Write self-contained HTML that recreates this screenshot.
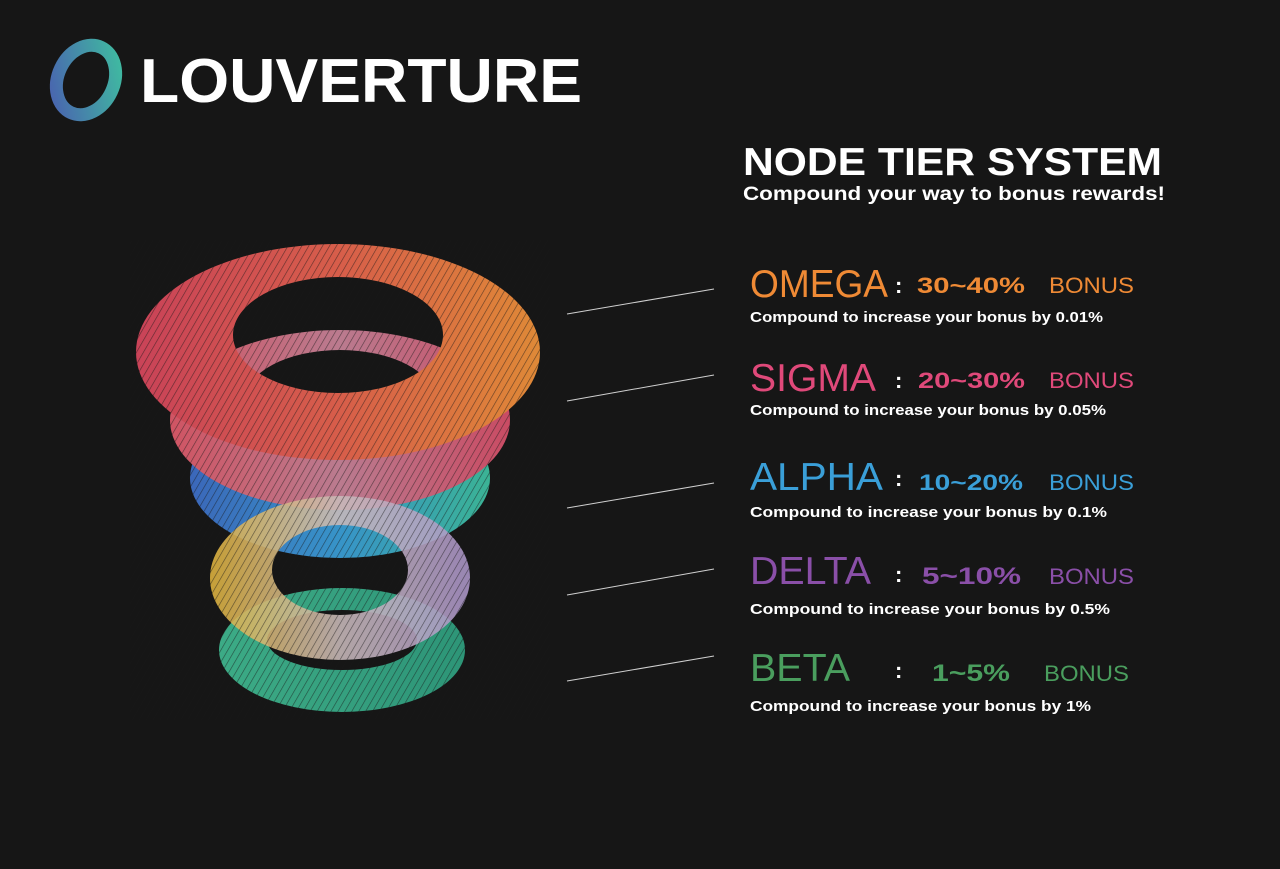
<!DOCTYPE html>
<html><head><meta charset="utf-8"><style>
html,body{margin:0;padding:0;background:#161616;}
svg{display:block}
text{font-family:"Liberation Sans",sans-serif;font-weight:bold}
</style></head><body>
<svg width="1280" height="869" viewBox="0 0 1280 869" xmlns="http://www.w3.org/2000/svg">
<defs>
<linearGradient id="gO" x1="0" x2="1" y1="0" y2="0"><stop offset="0" stop-color="#d9475e"/><stop offset="0.5" stop-color="#e8644f"/><stop offset="1" stop-color="#f1933a"/></linearGradient>
<linearGradient id="gS" x1="0" x2="1"><stop offset="0" stop-color="#e05a6a"/><stop offset="0.5" stop-color="#c9849a"/><stop offset="1" stop-color="#d9506a"/></linearGradient>
<linearGradient id="gA" x1="0" x2="1"><stop offset="0" stop-color="#3f6fc8"/><stop offset="0.5" stop-color="#3a9fd8"/><stop offset="1" stop-color="#3fc1a0"/></linearGradient>
<linearGradient id="gD" x1="0" x2="1"><stop offset="0" stop-color="#f0c040"/><stop offset="0.5" stop-color="#d8c8c8"/><stop offset="1" stop-color="#b8a0d8"/></linearGradient>
<linearGradient id="gB" x1="0" x2="1"><stop offset="0" stop-color="#40b890"/><stop offset="1" stop-color="#30a080"/></linearGradient>
<linearGradient id="gL" x1="0" x2="1" y1="1" y2="0"><stop offset="0" stop-color="#4a5fb0"/><stop offset="1" stop-color="#3fc0a0"/></linearGradient>
<pattern id="mesh" width="6" height="6" patternUnits="userSpaceOnUse" patternTransform="rotate(30)"><line x1="0" y1="0" x2="0" y2="6" stroke="#161616" stroke-width="1.3" opacity="0.6"/></pattern>
</defs>
<!-- logo -->
<ellipse cx="86" cy="80" rx="28" ry="36" transform="rotate(25 86 80)" fill="none" stroke="url(#gL)" stroke-width="13"/>
<text x="140" y="102" font-size="62" fill="#fff" textLength="442" lengthAdjust="spacingAndGlyphs">LOUVERTURE</text>
<!-- tori (outer minus inner, evenodd) -->
<g opacity="0.92" fill-rule="evenodd">
<path fill="url(#gB)" d="M219,650 a123,62 0 1,0 246,0 a123,62 0 1,0 -246,0 Z M267,640 a75,30 0 1,0 150,0 a75,30 0 1,0 -150,0 Z"/>
<path fill="url(#gA)" d="M190,478 a150,80 0 1,0 300,0 a150,80 0 1,0 -300,0 Z M255,462 a85,40 0 1,0 170,0 a85,40 0 1,0 -170,0 Z"/>
<path fill="url(#gS)" d="M170,420 a170,90 0 1,0 340,0 a170,90 0 1,0 -340,0 Z M245,400 a95,50 0 1,0 190,0 a95,50 0 1,0 -190,0 Z"/>
<path fill="url(#gO)" d="M136,352 a202,108 0 1,0 404,0 a202,108 0 1,0 -404,0 Z M233,335 a105,58 0 1,0 210,0 a105,58 0 1,0 -210,0 Z"/>
<path fill="url(#gD)" opacity="0.88" d="M210,578 a130,82 0 1,0 260,0 a130,82 0 1,0 -260,0 Z M272,570 a68,45 0 1,0 136,0 a68,45 0 1,0 -136,0 Z"/>
</g>
<rect x="130" y="240" width="420" height="480" fill="url(#mesh)"/>
<!-- connector lines -->
<g stroke="#d0d0d0" stroke-width="1">
<line x1="567" y1="314" x2="714" y2="289"/>
<line x1="567" y1="401" x2="714" y2="375"/>
<line x1="567" y1="508" x2="714" y2="483"/>
<line x1="567" y1="595" x2="714" y2="569"/>
<line x1="567" y1="681" x2="714" y2="656"/>
</g>
<!-- header -->
<text x="743" y="175" font-size="39" fill="#fff" textLength="419" lengthAdjust="spacingAndGlyphs">NODE TIER SYSTEM</text>
<text x="743" y="200" font-size="19" fill="#fff" textLength="422" lengthAdjust="spacingAndGlyphs">Compound your way to bonus rewards!</text>
<!-- OMEGA -->
<g fill="#ef8a35">
<text x="750" y="297" font-size="39" textLength="138" lengthAdjust="spacingAndGlyphs" style="font-weight:normal">OMEGA</text>
<text x="895" y="293" font-size="22" fill="#fff">:</text>
<text x="917" y="293" font-size="22" textLength="108" lengthAdjust="spacingAndGlyphs">30~40%</text>
<text x="1049" y="293" font-size="22" style="font-weight:normal" textLength="85" lengthAdjust="spacingAndGlyphs">BONUS</text>
</g>
<text x="750" y="322" font-size="15" fill="#fff" textLength="353" lengthAdjust="spacingAndGlyphs">Compound to increase your bonus by 0.01%</text>
<!-- SIGMA -->
<g fill="#e0497a">
<text x="750" y="391" font-size="39" style="font-weight:normal" textLength="126" lengthAdjust="spacingAndGlyphs">SIGMA</text>
<text x="895" y="388" font-size="22" fill="#fff">:</text>
<text x="918" y="388" font-size="22" textLength="107" lengthAdjust="spacingAndGlyphs">20~30%</text>
<text x="1049" y="388" font-size="22" style="font-weight:normal" textLength="85" lengthAdjust="spacingAndGlyphs">BONUS</text>
</g>
<text x="750" y="415" font-size="15" fill="#fff" textLength="356" lengthAdjust="spacingAndGlyphs">Compound to increase your bonus by 0.05%</text>
<!-- ALPHA -->
<g fill="#3a9fd8">
<text x="750" y="490" font-size="39" style="font-weight:normal" textLength="133" lengthAdjust="spacingAndGlyphs">ALPHA</text>
<text x="895" y="486" font-size="22" fill="#fff">:</text>
<text x="919" y="490" font-size="22" textLength="104" lengthAdjust="spacingAndGlyphs">10~20%</text>
<text x="1049" y="490" font-size="22" style="font-weight:normal" textLength="85" lengthAdjust="spacingAndGlyphs">BONUS</text>
</g>
<text x="750" y="517" font-size="15" fill="#fff" textLength="357" lengthAdjust="spacingAndGlyphs">Compound to increase your bonus by 0.1%</text>
<!-- DELTA -->
<g fill="#8a4fa8">
<text x="750" y="584" font-size="39" style="font-weight:normal" textLength="121" lengthAdjust="spacingAndGlyphs">DELTA</text>
<text x="895" y="582" font-size="22" fill="#fff">:</text>
<text x="922" y="584" font-size="24" textLength="99" lengthAdjust="spacingAndGlyphs">5~10%</text>
<text x="1049" y="584" font-size="22" style="font-weight:normal" textLength="85" lengthAdjust="spacingAndGlyphs">BONUS</text>
</g>
<text x="750" y="614" font-size="15" fill="#fff" textLength="360" lengthAdjust="spacingAndGlyphs">Compound to increase your bonus by 0.5%</text>
<!-- BETA -->
<g fill="#4a9e5e">
<text x="750" y="681" font-size="39" style="font-weight:normal" textLength="100" lengthAdjust="spacingAndGlyphs">BETA</text>
<text x="895" y="678" font-size="22" fill="#fff">:</text>
<text x="932" y="681" font-size="24" textLength="78" lengthAdjust="spacingAndGlyphs">1~5%</text>
<text x="1044" y="681" font-size="22" style="font-weight:normal" textLength="85" lengthAdjust="spacingAndGlyphs">BONUS</text>
</g>
<text x="750" y="711" font-size="15" fill="#fff" textLength="341" lengthAdjust="spacingAndGlyphs">Compound to increase your bonus by 1%</text>
</svg>
</body></html>
